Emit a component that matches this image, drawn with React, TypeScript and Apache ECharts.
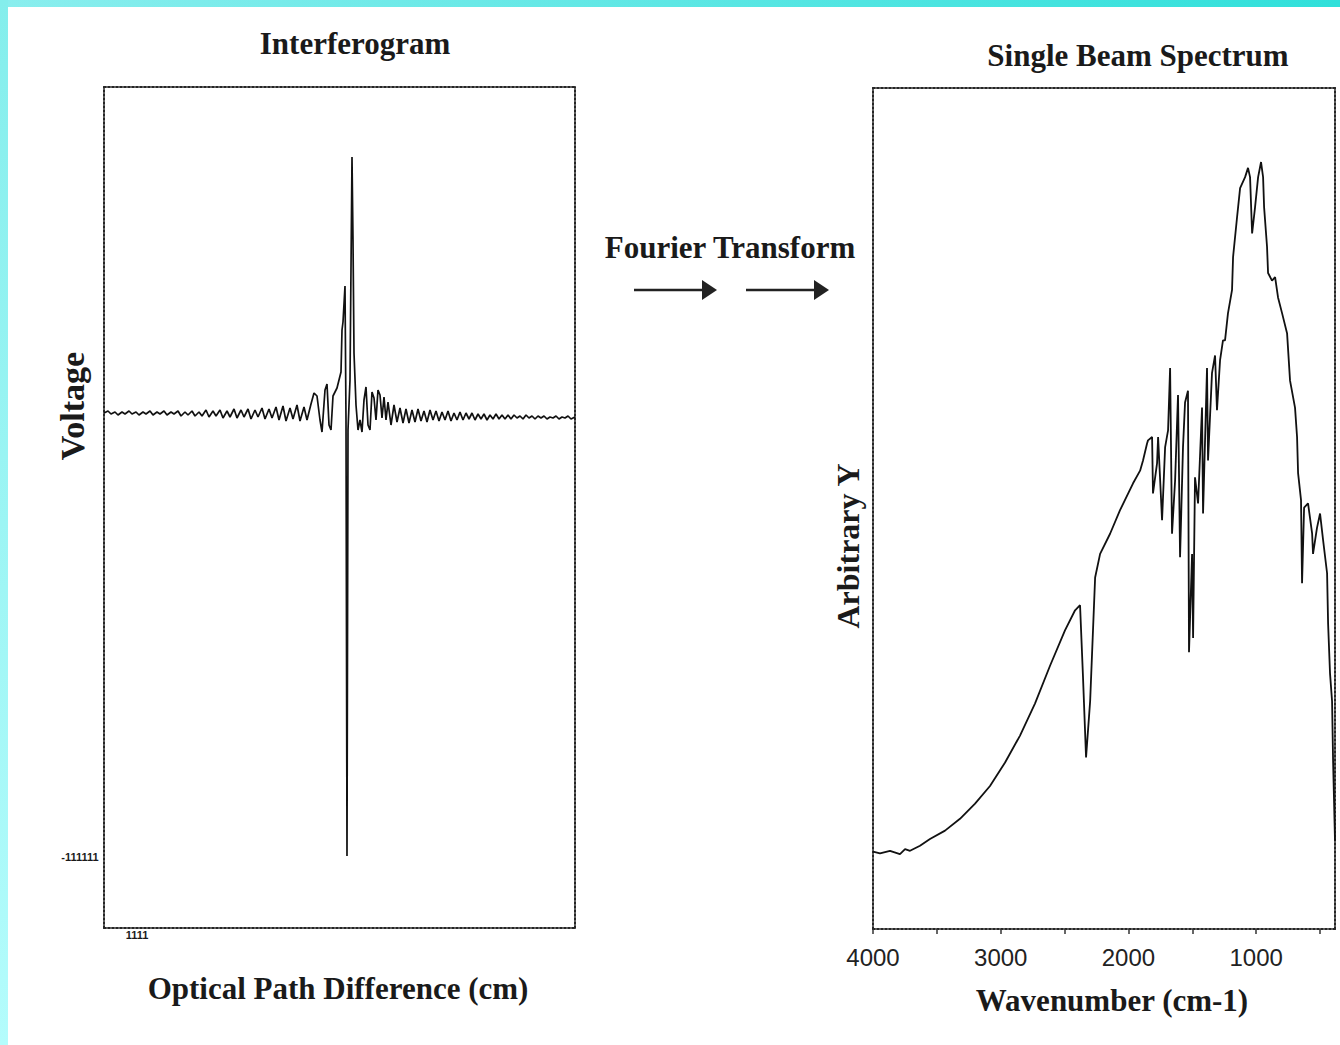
import React, { useEffect, useRef } from "react";
import * as echarts from "echarts";

// Interferogram: optical path difference (arbitrary cm units) vs voltage
const opd = [
  -2.48, -2.44, -2.41, -2.37, -2.34, -2.3, -2.27, -2.23, -2.2, -2.16, -2.13, -2.09, -2.06, -2.02, -1.99,
  -1.95, -1.92, -1.88, -1.85, -1.81, -1.78, -1.74, -1.71, -1.67, -1.64, -1.6, -1.57, -1.53, -1.5, -1.46,
  -1.43, -1.39, -1.36, -1.32, -1.29, -1.25, -1.22, -1.18, -1.15, -1.11, -1.08, -1.04, -1.01, -0.97, -0.94,
  -0.9, -0.87, -0.83, -0.8, -0.76, -0.73, -0.69, -0.66, -0.62, -0.59, -0.55, -0.52, -0.48, -0.45, -0.41,
  -0.38, -0.35, -0.32, -0.3, -0.27, -0.25, -0.23, -0.21, -0.19, -0.17, -0.15, -0.13, -0.11, -0.1, -0.09,
  -0.07, -0.06, -0.05, -0.04, -0.02, 0.0, 0.01, 0.02, 0.04, 0.06, 0.08, 0.1, 0.12, 0.14, 0.16,
  0.18, 0.2, 0.22, 0.24, 0.26, 0.28, 0.3, 0.32, 0.34, 0.36, 0.39, 0.42, 0.45, 0.48, 0.51,
  0.54, 0.57, 0.6, 0.63, 0.66, 0.69, 0.72, 0.75, 0.78, 0.81, 0.84, 0.87, 0.9, 0.93, 0.96,
  0.99, 1.02, 1.05, 1.08, 1.11, 1.14, 1.17, 1.2, 1.23, 1.26, 1.29, 1.32, 1.35, 1.38, 1.41,
  1.44, 1.47, 1.5, 1.53, 1.56, 1.59, 1.62, 1.65, 1.68, 1.71, 1.74, 1.77, 1.8, 1.83, 1.86,
  1.89, 1.92, 1.95, 1.98, 2.01, 2.04, 2.07, 2.1, 2.13, 2.16, 2.19, 2.23,
];
const voltage = [
  0.02, 0.04, 0.01, 0.03, 0.0, 0.03, 0.01, 0.04, 0.01, 0.03, 0.0, 0.03, 0.01, 0.04, 0.0,
  0.03, 0.01, 0.04, 0.0, 0.03, 0.01, 0.04, -0.01, 0.03, 0.0, 0.04, -0.01, 0.03, -0.01, 0.05,
  -0.02, 0.04, -0.01, 0.05, -0.03, 0.04, -0.02, 0.06, -0.03, 0.05, -0.02, 0.06, -0.04, 0.05, -0.02,
  0.07, -0.04, 0.06, -0.03, 0.08, -0.05, 0.09, -0.06, 0.07, -0.04, 0.1, -0.06, 0.08, -0.05, 0.11,
  0.22, 0.19, -0.05, -0.17, 0.25, 0.31, -0.1, -0.15, 0.19, 0.23, 0.27, 0.35, 0.43, 0.85, 0.93,
  1.29, -0.05, -4.41, -0.15, 0.35, 2.58, 1.75, 0.62, 0.1, -0.15, -0.05, -0.17, 0.15, 0.28, -0.1,
  -0.15, 0.23, 0.17, -0.05, 0.25, 0.2, -0.03, 0.18, -0.05, 0.13, -0.1, 0.1, -0.07, 0.07, -0.08,
  0.06, -0.08, 0.05, -0.07, 0.06, -0.06, 0.04, -0.07, 0.05, -0.05, 0.04, -0.06, 0.03, -0.05, 0.04,
  -0.06, 0.02, -0.05, 0.03, -0.05, 0.02, -0.04, 0.02, -0.05, 0.01, -0.04, 0.01, -0.05, 0.0, -0.04,
  0.01, -0.04, 0.0, -0.04, 0.0, -0.04, 0.0, -0.03, -0.01, -0.04, 0.0, -0.03, -0.01, -0.04, -0.01,
  -0.03, -0.01, -0.04, -0.02, -0.03, -0.01, -0.04, -0.02, -0.03, -0.01, -0.04, -0.02,
];

// Single beam spectrum: wavenumber (cm-1) vs arbitrary Y
const wavenumber = [
  4000, 3945, 3867, 3789, 3749, 3710, 3671, 3632, 3554, 3436, 3319, 3201, 3084, 2966, 2849,
  2732, 2614, 2497, 2418, 2379, 2356, 2332, 2300, 2261, 2222, 2144, 2066, 1964, 1909, 1886,
  1855, 1847, 1815, 1808, 1776, 1768, 1737, 1713, 1690, 1674, 1659, 1635, 1612, 1596, 1573,
  1557, 1534, 1526, 1502, 1494, 1479, 1455, 1424, 1416, 1385, 1377, 1346, 1322, 1307, 1283,
  1260, 1244, 1221, 1189, 1181, 1150, 1126, 1087, 1064, 1048, 1032, 1009, 985, 962, 946,
  938, 915, 907, 876, 852, 829, 797, 758, 735, 696, 680, 672, 649, 641, 625,
  594, 562, 555, 524, 500, 476, 445, 437, 422, 406, 398, 383,
];
const intensity = [
  9.2, 9.0, 9.3, 8.9, 9.5, 9.3, 9.6, 9.9, 10.7, 11.7, 13.1, 14.9, 17.0, 19.8, 23.0,
  26.8, 31.3, 35.5, 37.9, 38.5, 30.0, 20.4, 27.1, 41.8, 44.6, 47.0, 49.8, 53.0, 54.5, 55.7,
  57.7, 58.1, 58.5, 51.8, 55.4, 58.5, 48.6, 57.3, 59.3, 66.7, 47.0, 53.3, 63.5, 44.2, 57.3,
  62.6, 64.0, 32.9, 44.6, 34.6, 53.7, 50.6, 62.0, 49.4, 66.7, 55.7, 66.1, 68.2, 61.7, 67.6,
  70.0, 70.0, 73.2, 76.0, 79.9, 84.6, 88.1, 89.4, 90.5, 89.4, 82.7, 85.8, 89.4, 91.2, 89.4,
  85.8, 81.1, 78.0, 77.1, 77.5, 75.1, 73.2, 70.8, 65.2, 62.0, 58.5, 54.2, 51.0, 41.1, 50.1,
  50.6, 47.0, 44.6, 47.7, 49.4, 46.2, 42.3, 36.3, 30.4, 27.1, 20.0, 10.5,
];

const wnLabelValues = [4000, 3000, 2000, 1000];
const wnTickValues = [4000, 3500, 3000, 2500, 2000, 1500, 1000, 500];

const SERIF = "'Liberation Serif', 'Times New Roman', serif";
const SANS = "'Liberation Sans', Arial, sans-serif";

export default function App() {
  const ref = useRef<HTMLDivElement>(null);
  useEffect(() => {
    const chart = echarts.init(ref.current!, null, { renderer: "svg" });
    const frameLine = {
      show: true,
      onZero: false,
      lineStyle: { color: "#262626", width: 2, type: "dotted" },
    };
    const plain = {
      axisLine: frameLine,
      axisTick: { show: false },
      axisLabel: { show: false },
      splitLine: { show: false },
    };
    const text = (t: string, x: number, y: number, size: number, extra: any = {}) => ({
      type: "text",
      x,
      y,
      rotation: extra.rotation || 0,
      style: {
        text: t,
        fill: "#1a1a1a",
        font: `${extra.weight || "bold"} ${size}px ${extra.family || SERIF}`,
        textAlign: "center",
        textVerticalAlign: "middle",
      },
    });
    chart.setOption({
      animation: false,
      backgroundColor: "#ffffff",
      grid: [
        { left: 104, top: 87, width: 471, height: 841 },
        { left: 873, top: 88, width: 462, height: 841 },
      ],
      xAxis: [
        { type: "value", gridIndex: 0, min: -2.48, max: 2.23, position: "bottom", ...plain },
        { type: "value", gridIndex: 0, min: 0, max: 1, position: "top", ...plain },
        {
          type: "value",
          gridIndex: 1,
          min: 383,
          max: 4000,
          inverse: true,
          position: "bottom",
          axisLine: frameLine,
          splitLine: { show: false },
          axisTick: {
            show: true,
            length: 5,
            customValues: wnTickValues,
            lineStyle: { color: "#333", width: 1.5 },
          },
          axisLabel: {
            show: true,
            customValues: wnLabelValues,
            formatter: (v: number) => String(v),
            margin: 16,
            fontSize: 24,
            fontFamily: SANS,
            color: "#222",
          },
        },
        { type: "value", gridIndex: 1, min: 0, max: 1, position: "top", ...plain },
      ],
      yAxis: [
        { type: "value", gridIndex: 0, min: -5.13, max: 3.28, position: "left", ...plain },
        { type: "value", gridIndex: 0, min: 0, max: 1, position: "right", ...plain },
        { type: "value", gridIndex: 1, min: 0, max: 100, position: "left", ...plain },
        { type: "value", gridIndex: 1, min: 0, max: 1, position: "right", ...plain },
      ],
      series: [
        {
          name: "Interferogram",
          type: "line",
          xAxisIndex: 0,
          yAxisIndex: 0,
          showSymbol: false,
          data: opd.map((x, i) => [x, voltage[i]]),
          lineStyle: { color: "#111", width: 1.7 },
        },
        {
          name: "Single Beam Spectrum",
          type: "line",
          xAxisIndex: 2,
          yAxisIndex: 2,
          showSymbol: false,
          data: wavenumber.map((x, i) => [x, intensity[i]]),
          lineStyle: { color: "#111", width: 1.8 },
        },
      ],
      graphic: [
        {
          type: "rect",
          shape: { x: 0, y: 0, width: 1340, height: 7 },
          style: {
            fill: new echarts.graphic.LinearGradient(0, 0, 1, 0, [
              { offset: 0, color: "#8aeeee" },
              { offset: 1, color: "#30e0da" },
            ]),
          },
        },
        {
          type: "rect",
          shape: { x: 0, y: 0, width: 8, height: 1045 },
          style: {
            fill: new echarts.graphic.LinearGradient(0, 0, 0, 1, [
              { offset: 0, color: "#84eeec" },
              { offset: 1, color: "#b4fcfc" },
            ]),
          },
        },
        text("Interferogram", 355, 43, 31),
        text("Single Beam Spectrum", 1138, 55, 31),
        text("Fourier Transform", 730, 247, 31),
        text("Optical Path Difference (cm)", 338, 988, 31),
        text("Wavenumber (cm-1)", 1112, 1000, 31),
        text("Voltage", 72, 406, 34, { rotation: Math.PI / 2 }),
        text("Arbitrary Y", 848, 546, 32, { rotation: Math.PI / 2 }),
        text("-111111", 80, 857, 11, { family: SANS }),
        text("1111", 137, 935, 11, { family: SANS }),
        {
          type: "line",
          shape: { x1: 634, y1: 290, x2: 706, y2: 290 },
          style: { stroke: "#222", lineWidth: 2.5 },
        },
        {
          type: "polygon",
          shape: { points: [[702, 280], [717, 290], [702, 300]] },
          style: { fill: "#222" },
        },
        {
          type: "line",
          shape: { x1: 746, y1: 290, x2: 818, y2: 290 },
          style: { stroke: "#222", lineWidth: 2.5 },
        },
        {
          type: "polygon",
          shape: { points: [[814, 280], [829, 290], [814, 300]] },
          style: { fill: "#222" },
        },
      ],
    });
    return () => chart.dispose();
  }, []);
  return (
    <div
      ref={ref}
      style={{ position: "absolute", left: 0, top: 0, width: 1340, height: 1045, background: "#fff" }}
    />
  );
}
